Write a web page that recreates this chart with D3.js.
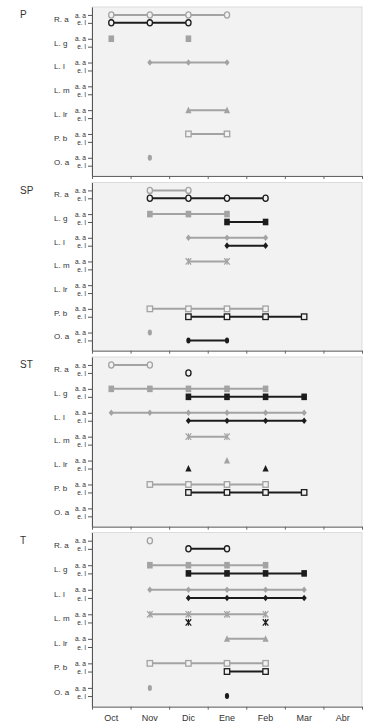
<!DOCTYPE html>
<html>
<head>
<meta charset="utf-8">
<script src="https://cdn.jsdelivr.net/npm/d3@7"></script>
<style>
  body { margin: 0; background: #fff; }
  text { font-family: "Liberation Sans", Arial, sans-serif; fill: #333; }
</style>
</head>
<body>
<script>
// data
var panels = ["P", "SP", "ST", "T"];
var months = ["Oct", "Nov", "Dic", "Ene", "Feb", "Mar", "Abr"];
var species = ["R. a", "L. g", "L. l", "L. m", "L. lr", "P. b", "O. a"];
var stages = ["a. a", "e. l"];

// months where each species / stage was found, [a. a, e. l]
var rowsP = [
  [["Oct", "Nov", "Dic", "Ene"], ["Oct", "Nov", "Dic"]],
  [["Oct", "Dic"], []],
  [["Nov", "Dic", "Ene"], []],
  [[], []],
  [["Dic", "Ene"], []],
  [["Dic", "Ene"], []],
  [["Nov"], []]
];
var rowsSP = [
  [["Nov", "Dic"], ["Nov", "Dic", "Ene", "Feb"]],
  [["Nov", "Dic", "Ene"], ["Ene", "Feb"]],
  [["Dic", "Ene", "Feb"], ["Ene", "Feb"]],
  [["Dic", "Ene"], []],
  [[], []],
  [["Nov", "Dic", "Ene", "Feb"], ["Dic", "Ene", "Feb", "Mar"]],
  [["Nov"], ["Dic", "Ene"]]
];
var rowsST = [
  [["Oct", "Nov"], ["Dic"]],
  [["Oct", "Nov", "Dic", "Ene", "Feb"], ["Dic", "Ene", "Feb", "Mar"]],
  [["Oct", "Nov", "Dic", "Ene", "Feb", "Mar"], ["Dic", "Ene", "Feb", "Mar"]],
  [["Dic", "Ene"], []],
  [["Ene"], ["Dic", "Feb"]],
  [["Nov", "Dic", "Ene", "Feb"], ["Dic", "Ene", "Feb", "Mar"]],
  [[], []]
];
var rowsT = [
  [["Nov"], ["Dic", "Ene"]],
  [["Nov", "Dic", "Ene", "Feb"], ["Dic", "Ene", "Feb", "Mar"]],
  [["Nov", "Dic", "Ene", "Feb", "Mar"], ["Dic", "Ene", "Feb", "Mar"]],
  [["Nov", "Dic", "Ene", "Feb"], ["Dic", "Feb"]],
  [["Ene", "Feb"], []],
  [["Nov", "Dic", "Ene", "Feb"], ["Ene", "Feb"]],
  [["Nov"], ["Ene"]]
];
var panelRows = [rowsP, rowsSP, rowsST, rowsT];

// layout
var W = 367, H = 722;
var left = 92, right = 362;
var panelTop = [7, 182.5, 357, 532.5];
var panelBottom = [176, 350.7, 526.7, 706.7];
var slotMax = 21.3;
var bg = "#f2f2f2";
var stageColor = ["#a3a3a3", "#1c1c1c"];

var svg = d3.select("body").append("svg")
  .attr("width", W)
  .attr("height", H);

var x = d3.scaleBand().domain(months).range([left, right]);
var xi = d3.scaleLinear().domain([0, months.length]).range([left, right]);

function slot(i, j) { return 1 + 3 * i + j; }

// draws one marker for species s in colour c
function marker(g, s, c, cx, cy) {
  if (s == 0) {
    g.append("ellipse").attr("cx", cx).attr("cy", cy).attr("rx", 2.6).attr("ry", 3.1)
      .attr("fill", bg).attr("stroke", c).attr("stroke-width", 1.3);
  } else if (s == 1) {
    g.append("rect").attr("x", cx - 2.8).attr("y", cy - 3.3).attr("width", 5.6).attr("height", 6.6)
      .attr("fill", c);
  } else if (s == 2) {
    g.append("path").attr("d", "M0,-3.3L2.6,0L0,3.3L-2.6,0Z")
      .attr("transform", "translate(" + cx + "," + cy + ")").attr("fill", c);
  } else if (s == 3) {
    g.append("path").attr("d", "M0,-3.4L0,3.4M-2.8,-3.2L2.8,3.2M-2.8,3.2L2.8,-3.2")
      .attr("transform", "translate(" + cx + "," + cy + ")")
      .attr("fill", "none").attr("stroke", c).attr("stroke-width", 1.2);
  } else if (s == 4) {
    g.append("path").attr("d", "M0,-3.6L3.1,3L-3.1,3Z")
      .attr("transform", "translate(" + cx + "," + cy + ")").attr("fill", c);
  } else if (s == 5) {
    g.append("rect").attr("x", cx - 2.7).attr("y", cy - 2.8).attr("width", 5.4).attr("height", 5.6)
      .attr("fill", bg).attr("stroke", c).attr("stroke-width", 1.3);
  } else {
    g.append("ellipse").attr("cx", cx).attr("cy", cy).attr("rx", 2.1).attr("ry", 3)
      .attr("fill", c);
  }
}

panels.forEach(function(name, p) {
  var top = panelTop[p], bottom = panelBottom[p];
  var y = d3.scaleLinear().domain([0, slotMax]).range([top, bottom]);
  var g = svg.append("g");

  // plot background
  g.append("rect")
    .attr("x", left).attr("y", top)
    .attr("width", right - left).attr("height", bottom - top)
    .attr("fill", bg).attr("stroke", "#dcdcdc").attr("stroke-width", 1);

  // panel label
  g.append("text")
    .attr("x", 20).attr("y", top + 11)
    .style("font-size", "10px")
    .attr("fill", "#222")
    .text(name);

  // y axis with stage labels
  var slots = [], slotLabel = {};
  species.forEach(function(sp, i) {
    stages.forEach(function(st, j) {
      slots.push(slot(i, j));
      slotLabel[slot(i, j)] = st;
    });
  });
  var ya = g.append("g")
    .attr("transform", "translate(" + left + ",0)")
    .call(d3.axisLeft(y).tickValues(slots)
      .tickFormat(function(d) { return slotLabel[d]; })
      .tickSize(4).tickSizeOuter(0).tickPadding(2));
  ya.selectAll("path, line").attr("stroke", "#555");
  ya.selectAll("text").style("font-size", "6.6px")
    .style("font-family", "'Liberation Sans', Arial, sans-serif").attr("fill", "#333");

  // species labels
  species.forEach(function(sp, i) {
    g.append("text")
      .attr("x", 54)
      .attr("y", (y(slot(i, 0)) + y(slot(i, 1))) / 2)
      .attr("dy", "0.35em")
      .style("font-size", "8px")
      .attr("fill", "#333")
      .text(sp);
  });

  // bottom axis, ticks between months
  var xa = g.append("g")
    .attr("transform", "translate(0," + bottom + ")")
    .call(d3.axisBottom(xi).tickValues(d3.range(months.length + 1))
      .tickFormat("").tickSize(3).tickSizeOuter(0));
  xa.selectAll("path, line").attr("stroke", "#666");

  if (p == panels.length - 1) {
    var xl = g.append("g")
      .attr("transform", "translate(0," + bottom + ")")
      .call(d3.axisBottom(x).tickSize(0).tickPadding(8));
    xl.select(".domain").remove();
    xl.selectAll("text").style("font-size", "9px")
      .style("font-family", "'Liberation Sans', Arial, sans-serif").attr("fill", "#222");
  }

  // series: lines between consecutive months, then markers
  var line = d3.line()
    .defined(function(d) { return d.on; })
    .x(function(d) { return x(d.m) + x.bandwidth() / 2; })
    .y(function(d) { return d.y; });

  panelRows[p].forEach(function(row, i) {
    row.forEach(function(found, j) {
      var yy = y(slot(i, j));
      var pts = months.map(function(m) { return {m: m, on: found.indexOf(m) >= 0, y: yy}; });
      g.append("path")
        .datum(pts)
        .attr("d", line)
        .attr("fill", "none")
        .attr("stroke", stageColor[j])
        .attr("stroke-width", 2);
      found.forEach(function(m) {
        marker(g, i, stageColor[j], x(m) + x.bandwidth() / 2, yy);
      });
    });
  });
});
</script>
</body>
</html>
